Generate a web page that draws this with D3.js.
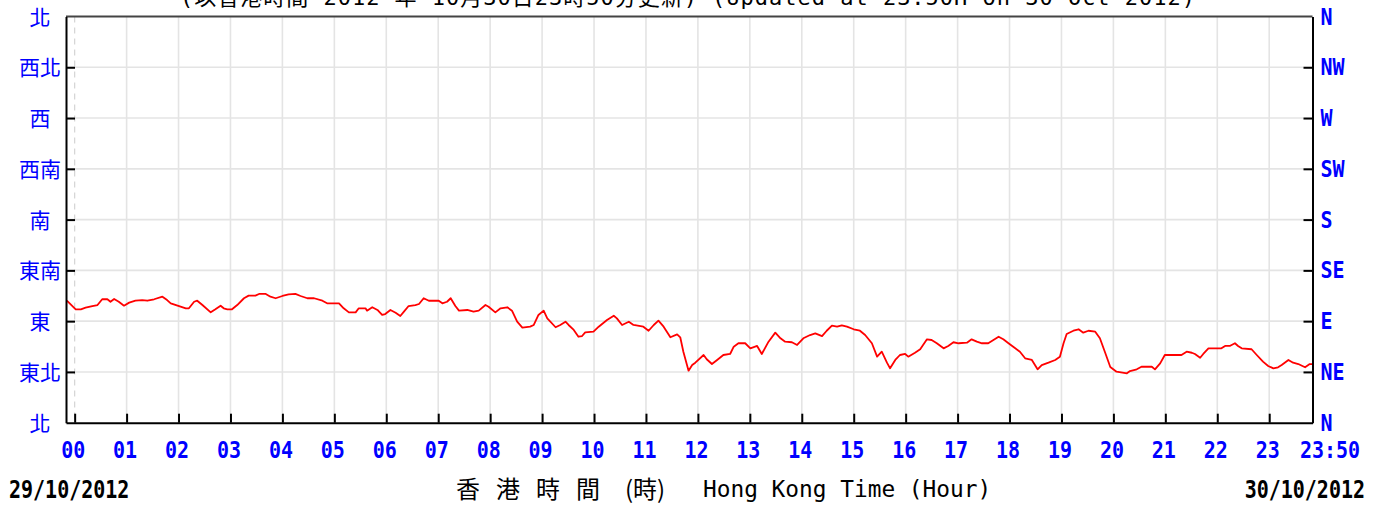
<!DOCTYPE html>
<html>
<head>
<meta charset="utf-8">
<script src="https://cdn.jsdelivr.net/npm/d3@7"></script>
<style>
  html, body { margin: 0; padding: 0; background: #fff; }
  svg { display: block; }
</style>
</head>
<body>
<svg id="chart"></svg>
<script>
const SVG_WIDTH = 1378;
const SVG_HEIGHT = 510;
const LEFT = 66;
const RIGHT = 1312.5;
const TOP = 16.5;
const BOTTOM = 422.7;
const TICK = 9;
const BLUE = "#0000ff";

// hour ticks along the bottom
const hourTicks = d3.range(0, 24);
const hourLabels = hourTicks.map(h => (h < 10 ? "0" : "") + h);
const endHour = 23 + 50 / 60;
const endLabel = "23:50";

// direction ticks
const dirTicks = [0, 45, 90, 135, 180, 225, 270, 315, 360];
const dirLabelsZh = ["北", "東北", "東", "東南", "南", "西南", "西", "西北", "北"];
const dirLabelsEn = ["N", "NE", "E", "SE", "S", "SW", "W", "NW", "N"];

const titleText = "(以香港時間 2012 年 10月30日23時50分更新) (Updated at 23:50H on 30 Oct 2012)";
const startDate = "29/10/2012";
const endDate = "30/10/2012";

// wind direction readings (hour of day, degrees)
const hours = [
	-0.15, 0.02, 0.12, 0.21, 0.34, 0.44, 0.53, 0.63, 0.69, 0.76, 0.85, 0.95, 1.05, 1.17, 1.30, 1.40,
	1.53, 1.69, 1.78, 1.85, 2.01, 2.14, 2.20, 2.30, 2.36, 2.46, 2.62, 2.71, 2.81, 2.87, 2.94, 3.03,
	3.13, 3.26, 3.35, 3.48, 3.55, 3.68, 3.77, 3.87, 4.00, 4.12, 4.25, 4.35, 4.48, 4.61, 4.77, 4.86,
	5.09, 5.18, 5.28, 5.41, 5.47, 5.60, 5.63, 5.73, 5.83, 5.92, 5.98, 6.08, 6.18, 6.27, 6.34, 6.43,
	6.56, 6.63, 6.72, 6.82, 7.01, 7.08, 7.17, 7.24, 7.33, 7.40, 7.56, 7.68, 7.78, 7.91, 7.97, 8.10,
	8.20, 8.33, 8.42, 8.52, 8.62, 8.77, 8.84, 8.93, 9.03, 9.10, 9.26, 9.35, 9.45, 9.51, 9.61, 9.70,
	9.77, 9.83, 9.99, 10.09, 10.25, 10.38, 10.44, 10.54, 10.67, 10.76, 10.95, 11.05, 11.15, 11.24, 11.34, 11.47,
	11.60, 11.66, 11.72, 11.82, 11.89, 11.95, 12.11, 12.17, 12.27, 12.37, 12.49, 12.62, 12.69, 12.78, 12.91, 13.01,
	13.14, 13.23, 13.36, 13.49, 13.59, 13.68, 13.81, 13.91, 14.03, 14.16, 14.26, 14.39, 14.48, 14.58, 14.68, 14.77,
	14.87, 15.00, 15.12, 15.22, 15.35, 15.45, 15.54, 15.64, 15.70, 15.80, 15.89, 15.99, 16.05, 16.18, 16.28, 16.41,
	16.50, 16.60, 16.73, 16.82, 16.92, 17.02, 17.18, 17.27, 17.37, 17.47, 17.59, 17.69, 17.79, 17.88, 17.98, 18.11,
	18.20, 18.30, 18.43, 18.54, 18.62, 18.75, 18.88, 18.97, 19.04, 19.10, 19.23, 19.33, 19.42, 19.52, 19.65, 19.74,
	19.84, 19.94, 20.06, 20.26, 20.32, 20.45, 20.54, 20.74, 20.80, 20.90, 20.99, 21.31, 21.41, 21.51, 21.57, 21.67,
	21.73, 21.83, 22.08, 22.15, 22.24, 22.34, 22.40, 22.47, 22.66, 22.76, 22.88, 22.98, 23.08, 23.17, 23.24, 23.37,
	23.46, 23.56, 23.69, 23.78, 23.83
];
const directions = [
	108.1, 100.5, 100.5, 101.9, 103.4, 104.3, 109.4, 109.4, 107.2, 109.6, 107.2, 103.7, 106.4, 108.1, 108.7, 108.1,
	109.4, 111.7, 108.7, 105.8, 103.4, 101.4, 101.4, 107.2, 108.1, 104.3, 97.8, 100.5, 103.7, 101.4, 100.5, 100.5,
	104.3, 110.3, 112.6, 112.6, 114.1, 114.1, 111.7, 110.3, 112.3, 113.8, 114.1, 112.3, 110.3, 110.3, 108.1, 105.8,
	105.8, 101.4, 97.8, 97.8, 101.4, 101.4, 99.3, 102.3, 99.9, 95.5, 96.3, 99.9, 97.5, 94.6, 98.4, 103.4,
	104.3, 105.2, 110.3, 108.1, 108.1, 105.8, 107.2, 110.3, 103.4, 99.3, 99.9, 98.4, 99.3, 104.3, 102.8, 97.8,
	101.4, 102.3, 99.3, 89.5, 84.2, 85.1, 86.6, 95.5, 99.3, 92.5, 84.6, 86.6, 89.5, 86.6, 82.2, 76.2,
	76.8, 80.1, 80.7, 85.1, 91.0, 94.8, 92.5, 86.6, 89.5, 86.6, 85.1, 81.5, 86.6, 90.4, 85.1, 75.7,
	78.3, 75.7, 62.9, 46.1, 51.1, 53.2, 60.0, 56.2, 52.0, 55.6, 60.0, 60.9, 67.4, 70.4, 70.4, 65.9,
	68.0, 60.9, 71.8, 79.8, 74.8, 71.8, 71.3, 68.9, 74.8, 77.7, 79.2, 76.8, 81.5, 86.0, 85.1, 86.3,
	85.1, 82.8, 81.5, 77.7, 70.4, 58.5, 62.9, 53.2, 48.2, 55.6, 60.0, 60.9, 58.5, 62.0, 65.1, 73.9,
	73.3, 70.4, 65.9, 68.0, 71.3, 70.4, 70.9, 73.9, 71.8, 70.4, 70.4, 73.3, 76.2, 73.9, 70.4, 65.9,
	62.9, 57.1, 55.6, 47.3, 51.1, 53.2, 55.6, 58.5, 70.4, 78.6, 81.5, 82.8, 79.8, 81.5, 80.7, 74.8,
	62.2, 49.4, 45.2, 43.8, 45.8, 47.3, 49.6, 49.6, 47.3, 52.6, 60.0, 60.0, 62.9, 62.0, 60.9, 57.6,
	60.9, 65.9, 65.9, 68.0, 68.0, 70.4, 68.0, 65.9, 65.1, 60.0, 54.1, 50.3, 48.2, 49.1, 51.1, 55.6,
	53.2, 52.0, 49.1, 52.0, 52.0
];

const svg = d3.select("#chart")
	.attr("width", SVG_WIDTH)
	.attr("height", SVG_HEIGHT);

const xScale = d3.scaleLinear()
	.domain([-10 / 60, endHour])
	.range([LEFT, RIGHT]);
const yScale = d3.scaleLinear()
	.domain([0, 360])
	.range([BOTTOM, TOP]);

// Title (mostly above the visible area)
svg.append("text")
	.attr("x", 180).attr("y", 5)
	.attr("textLength", 1015).attr("lengthAdjust", "spacing")
	.style("font-family", "'DejaVu Sans Mono', 'Noto Sans CJK TC', monospace")
	.style("font-size", "22px")
	.attr("fill", "#000")
	.text(titleText);

// Grid lines
const grid = svg.append("g").attr("class", "grid");
grid.selectAll("line.v")
	.data(hourTicks.filter(h => h > 0))
	.enter().append("line")
	.attr("x1", d => xScale(d)).attr("x2", d => xScale(d))
	.attr("y1", TOP).attr("y2", BOTTOM)
	.attr("stroke", "#e4e4e4").attr("stroke-width", 1.6);
grid.selectAll("line.h")
	.data(dirTicks.slice(1, -1))
	.enter().append("line")
	.attr("x1", LEFT).attr("x2", RIGHT)
	.attr("y1", d => yScale(d)).attr("y2", d => yScale(d))
	.attr("stroke", "#e4e4e4").attr("stroke-width", 1.6);
grid.append("line")
	.attr("x1", xScale(0)).attr("x2", xScale(0))
	.attr("y1", TOP).attr("y2", BOTTOM)
	.attr("stroke", "#d4d4d4").attr("stroke-width", 1.2)
	.attr("stroke-dasharray", "6,5");

// Data line
const line = d3.line()
	.x((d, i) => xScale(hours[i]))
	.y(d => yScale(d));
svg.append("path")
	.datum(directions)
	.attr("d", line)
	.attr("fill", "none")
	.attr("stroke", "#ff0000")
	.attr("stroke-width", 1.8)
	.attr("stroke-linejoin", "round");

// Frame
svg.append("line")
	.attr("x1", LEFT).attr("x2", RIGHT).attr("y1", TOP).attr("y2", TOP)
	.attr("stroke", "#444").attr("stroke-width", 2);

// Axes with inward ticks
const monoBold = "'DejaVu Sans Mono', 'Liberation Mono', monospace";
const SY = 1.17;

const leftAxis = svg.append("g")
	.attr("transform", "translate(" + LEFT + ",0)")
	.call(d3.axisLeft(yScale).tickValues(dirTicks).tickSizeInner(-TICK).tickSizeOuter(0)
		.tickFormat((d, i) => dirLabelsZh[i]));
leftAxis.selectAll("text")
	.attr("x", -26).attr("dy", "0.36em")
	.attr("text-anchor", "middle")
	.attr("fill", BLUE)
	.style("font-family", "'Noto Sans CJK TC', 'Noto Sans CJK SC', sans-serif")
	.style("font-size", "21px");

const rightAxis = svg.append("g")
	.attr("transform", "translate(" + RIGHT + ",0)")
	.call(d3.axisRight(yScale).tickValues(dirTicks).tickSizeInner(-TICK).tickSizeOuter(0)
		.tickFormat((d, i) => dirLabelsEn[i]));
rightAxis.selectAll("text")
	.attr("x", 0).attr("y", 0).attr("dy", null)
	.attr("transform", "translate(8,7.5) scale(1," + SY + ")")
	.attr("text-anchor", "start")
	.attr("fill", BLUE)
	.style("font-family", monoBold)
	.style("font-weight", "bold")
	.style("font-size", "20px");

const bottomAxis = svg.append("g")
	.attr("transform", "translate(0," + BOTTOM + ")")
	.call(d3.axisBottom(xScale).tickValues(hourTicks.concat([endHour])).tickSizeInner(-TICK).tickSizeOuter(0)
		.tickFormat(d => d === endHour ? endLabel : hourLabels[d]));
bottomAxis.selectAll("text")
	.attr("y", 0).attr("dy", null)
	.attr("transform", d => "translate(" + (d === endHour ? 17 : -2) + ",35.5) scale(1," + SY + ")")
	.attr("text-anchor", "middle")
	.attr("fill", BLUE)
	.style("font-family", monoBold)
	.style("font-weight", "bold")
	.style("font-size", "20px");

svg.selectAll(".domain").attr("stroke", "#000").attr("stroke-width", 2);
svg.selectAll(".tick line").attr("stroke", "#000").attr("stroke-width", 2);
// no tick marks at the corners
leftAxis.selectAll(".tick line").filter(d => d === 0 || d === 360).remove();
rightAxis.selectAll(".tick line").filter(d => d === 0 || d === 360).remove();
bottomAxis.selectAll(".tick line").filter(d => d === endHour).remove();

// Dates and axis title
svg.append("text")
	.attr("transform", "translate(9,498) scale(1,1.2)")
	.style("font-family", monoBold).style("font-weight", "bold").style("font-size", "20px")
	.attr("fill", "#000")
	.text(startDate);
svg.append("text")
	.attr("transform", "translate(1365,498) scale(1,1.2)")
	.attr("text-anchor", "end")
	.style("font-family", monoBold).style("font-weight", "bold").style("font-size", "20px")
	.attr("fill", "#000")
	.text(endDate);

const axisTitle = svg.append("g").attr("fill", "#000");
axisTitle.append("text")
	.attr("x", 456).attr("y", 498)
	.attr("letter-spacing", "16px")
	.style("font-family", "'Noto Sans CJK TC', sans-serif")
	.style("font-size", "24px")
	.text("香港時間");
axisTitle.append("text")
	.attr("x", 625).attr("y", 498)
	.style("font-family", "'Noto Sans CJK TC', sans-serif")
	.style("font-size", "24px")
	.text("(時)");
axisTitle.append("text")
	.attr("x", 703).attr("y", 497)
	.style("font-family", "'DejaVu Sans Mono', monospace")
	.style("font-size", "22.8px")
	.text("Hong Kong Time (Hour)");
</script>
</body>
</html>
